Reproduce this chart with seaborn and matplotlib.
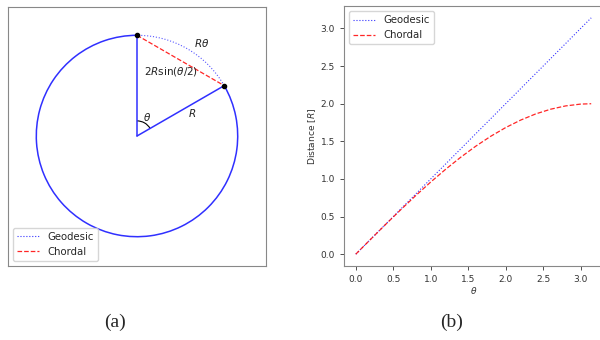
import numpy as np
import pandas as pd
import matplotlib
matplotlib.use("Agg")
import matplotlib.pyplot as plt
from matplotlib.patches import Arc
from matplotlib.lines import Line2D
import seaborn as sns

# ---- data ----
theta_deg = 60.0          # angle shown in panel (a)
radius = 1.0
theta_vals = [0.0, 0.2, 0.4, 0.6, 0.8, 1.0, 1.2, 1.4, 1.6, 1.8, 2.0,
              2.2, 2.4, 2.6, 2.8, 3.0, 3.1416]
geodesic_vals = [0.0, 0.2, 0.4, 0.6, 0.8, 1.0, 1.2, 1.4, 1.6, 1.8, 2.0,
                 2.2, 2.4, 2.6, 2.8, 3.0, 3.1416]
chordal_vals = [0.0, 0.1997, 0.3973, 0.5910, 0.7788, 0.9589, 1.1293, 1.2884,
                1.4347, 1.5667, 1.6829, 1.7824, 1.8641, 1.9271, 1.9709,
                1.9950, 2.0]
legend_labels = ["Geodesic", "Chordal"]
xticks = [0.0, 0.5, 1.0, 1.5, 2.0, 2.5, 3.0]
yticks = [0.0, 0.5, 1.0, 1.5, 2.0, 2.5, 3.0]

sns.set_style("white")
plt.rcParams['font.family'] = ['DejaVu Sans']

fig = plt.figure(figsize=(6.0, 3.4), dpi=100)

blue = "#3030ff"

# ---- panel (a) ----
axa = fig.add_axes([8/600, 74/340, 258/600, 259/340])
t = np.deg2rad(theta_deg)
top = (0.0, radius)
pt = (radius*np.sin(t), radius*np.cos(t))
start_ang = 90 - theta_deg
axa.add_patch(Arc((0, 0), 2*radius, 2*radius, theta1=90, theta2=360+start_ang,
                  color=blue, lw=1.1))
axa.add_patch(Arc((0, 0), 2*radius, 2*radius, theta1=start_ang, theta2=90,
                  color=blue, lw=0.8, ls=":", alpha=0.8))
axa.plot([0, top[0]], [0, top[1]], color=blue, lw=1.1)
axa.plot([0, pt[0]], [0, pt[1]], color=blue, lw=1.1)
axa.plot([top[0], pt[0]], [top[1], pt[1]], color="red", lw=0.9, ls="--", alpha=0.85)
axa.plot([top[0], pt[0]], [top[1], pt[1]], "o", color="black", ms=3)
axa.add_patch(Arc((0, 0), 0.3, 0.3, theta1=start_ang, theta2=90,
                  color="black", lw=0.8))
fs = 7.5
axa.text(0.10, 0.19, r"$\theta$", fontsize=fs, ha="center", va="center", color="#222222")
axa.text(0.55, 0.23, r"$R$", fontsize=fs, ha="center", va="center", color="#222222")
axa.text(0.64, 0.92, r"$R\theta$", fontsize=fs, ha="center", va="center", color="#222222")
axa.text(0.34, 0.64, r"2$R$sin($\theta$/2)", fontsize=fs, ha="center", va="center",
         color="#222222")
axa.set_xlim(-1.281, 1.281)
axa.set_ylim(-1.291, 1.281)
axa.set_xticks([])
axa.set_yticks([])
for s in axa.spines.values():
    s.set_color("#888888")
    s.set_linewidth(0.8)
handles = [Line2D([], [], color="blue", ls=":", lw=0.8, alpha=0.8),
           Line2D([], [], color="red", ls="--", lw=0.9, alpha=0.85)]
axa.legend(handles, legend_labels, loc="lower left", fontsize=7.3,
           frameon=True, borderaxespad=0.5, handlelength=2.2)

# ---- panel (b) ----
axb = fig.add_axes([344/600, 74/340, 259/600, 260/340])
df = pd.DataFrame({
    "theta": theta_vals * 2,
    "dist": geodesic_vals + chordal_vals,
    "kind": [legend_labels[0]] * len(theta_vals) + [legend_labels[1]] * len(theta_vals),
})
sns.lineplot(data=df[df.kind == legend_labels[0]], x="theta", y="dist", ax=axb,
             color="blue", ls=":", lw=0.8, label=legend_labels[0], alpha=0.8)
sns.lineplot(data=df[df.kind == legend_labels[1]], x="theta", y="dist", ax=axb,
             color="red", ls="--", lw=0.9, label=legend_labels[1], alpha=0.85)
axb.set_xlim(-0.157, 3.299)
axb.set_ylim(-0.157, 3.299)
axb.set_xticks(xticks)
axb.set_yticks(yticks)
axb.set_xticklabels([f"{v:.1f}" for v in xticks])
axb.set_yticklabels([f"{v:.1f}" for v in yticks])
axb.tick_params(labelsize=6.5, length=3, width=0.6, colors="#333333",
                direction="out", left=True, bottom=True)
axb.set_xlabel(r"$\theta$", fontsize=6.6, labelpad=0.5, color="#333333")
axb.set_ylabel(r"Distance [$R$]", fontsize=6.6, labelpad=2, color="#333333")
for s in axb.spines.values():
    s.set_color("#888888")
    s.set_linewidth(0.8)
axb.legend(loc="upper left", fontsize=7.3, frameon=True, borderaxespad=0.5,
           handlelength=2.2)

fig.text(115/600, 1 - 322/340, "(a)", fontsize=14, ha="center", va="center",
         family=["Liberation Serif"])
fig.text(452/600, 1 - 322/340, "(b)", fontsize=14, ha="center", va="center",
         family=["Liberation Serif"])

fig.savefig("out.png", dpi=100)
